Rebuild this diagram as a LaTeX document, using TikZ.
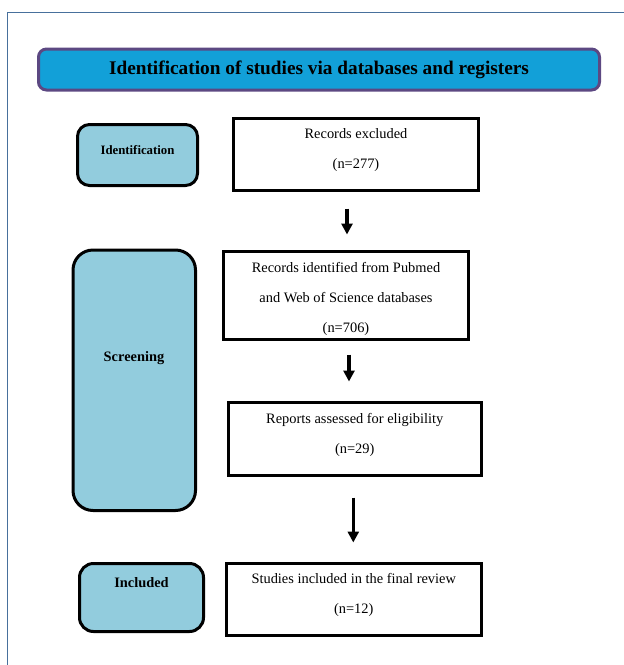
\documentclass[tikz,border=0pt]{standalone}
\usepackage{fontspec}
\setmainfont{Liberation Serif}
\usetikzlibrary{arrows.meta}
\definecolor{titlefill}{RGB}{18,160,216}
\definecolor{titledraw}{RGB}{92,72,130}
\definecolor{sidefill}{RGB}{146,204,221}
\definecolor{framecol}{RGB}{72,112,156}
\begin{document}
\begin{tikzpicture}[x=1pt,y=-1pt,
  sidebox/.style={draw=black, line width=3pt, fill=sidefill, rounded corners=#1, inner sep=0pt},
  recbox/.style={draw=black, line width=3pt, fill=white, inner sep=0pt},
  sidetext/.style={font=\fontsize{14.4}{17}\selectfont\bfseries, anchor=base, inner sep=0pt},
  rectext/.style={font=\fontsize{14.4}{30}\selectfont, align=center, inner sep=0pt},
  arr/.style={line width=3.6pt, -{Triangle[width=11pt,length=11pt]}}
]
\useasboundingbox (0,0) rectangle (624,665);
\draw[framecol, line width=1.8pt] (7.5,665) -- (7.5,12.5) -- (624,12.5);

% title
\node[draw=titledraw, line width=3pt, fill=titlefill, rounded corners=8pt,
      minimum width=561pt, minimum height=41pt, inner sep=0pt,
      font=\fontsize{19.3}{22}\selectfont\bfseries] (title) at (319,69.5)
      {Identification of studies via databases and registers};

% side boxes
\node[sidebox=12pt, minimum width=120pt, minimum height=61pt] (idb) at (137.5,155) {};
\node[sidebox=20pt, minimum width=122.5pt, minimum height=260.5pt] (scb) at (134.25,380.25) {};
\node[sidebox=14pt, minimum width=124pt, minimum height=68pt] (inb) at (141.5,597.5) {};
\node[sidetext, font=\fontsize{12.8}{15}\selectfont\bfseries] (idt) at (137.5,154.3) {Identification};
\node[sidetext] (sct) at (134,361) {Screening};
\node[sidetext] (int) at (141.5,587.5) {Included};

% record boxes
\node[recbox, minimum width=245pt, minimum height=72pt] (ex) at (356,154.5) {};
\node[recbox, minimum width=245pt, minimum height=88pt] (rid) at (346,295.5) {};
\node[recbox, minimum width=252.5pt, minimum height=73.5pt] (rep) at (354.75,438.75) {};
\node[recbox, minimum width=255.5pt, minimum height=72pt] (st) at (353.75,599) {};

\node[rectext] (ext) at (356,150.3) {Records excluded\\(n=277)};
\node[rectext] (ridt) at (346,299) {Records identified from Pubmed\\and Web of Science databases\\(n=706)};
\node[rectext] (rept) at (354.75,435.2) {Reports assessed for eligibility\\(n=29)};
\node[rectext] (stt) at (353.75,594.7) {Studies included in the final review\\(n=12)};

% arrows
\draw[arr] ([xshift=-9pt,yshift=-16.5pt]ex.south) -- ([xshift=1pt,yshift=15.5pt]rid.north);
\draw[arr] ([xshift=3pt,yshift=-13.5pt]rid.south) -- ([xshift=-5.75pt,yshift=19pt]rep.north);
\draw[arr] ([xshift=-1.45pt,yshift=-20.5pt]rep.south) -- ([xshift=-0.45pt,yshift=19pt]st.north);
\end{tikzpicture}
\end{document}
